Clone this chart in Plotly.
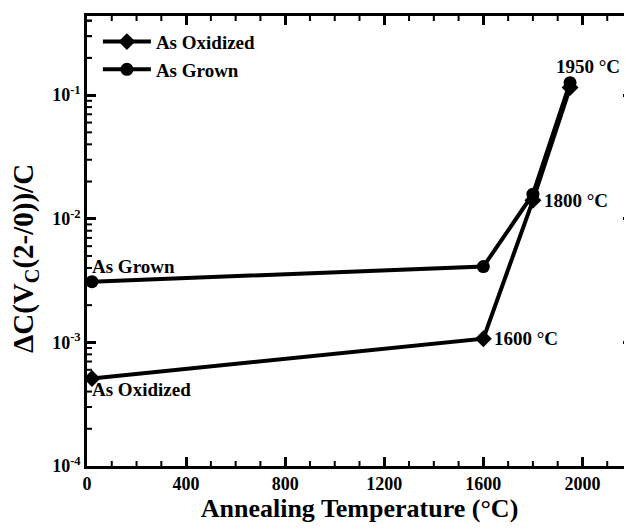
import math
import plotly.graph_objects as go

temps_grown = [20, 1600, 1800, 1950]
vals_grown = [3.1e-3, 4.1e-3, 1.58e-2, 0.126]
temps_ox = [20, 1600, 1800, 1950]
vals_ox = [5.1e-4, 1.07e-3, 1.41e-2, 0.115]

x_major = [0, 400, 800, 1200, 1600, 2000]
x_minor = [v for v in range(100, 2200, 100) if v % 400 != 0]
y_major = [1e-4, 1e-3, 1e-2, 1e-1]
y_major_text = ["10<sup>-4</sup>", "10<sup>-3</sup>", "10<sup>-2</sup>", "10<sup>-1</sup>"]
y_minor = [k * 10.0 ** n for n in range(-4, 0) for k in range(2, 10)] + [0.2, 0.3, 0.4]

FONT = "Liberation Serif"
XR = [0, 2200]
YR = [-4, -0.36]

fig = go.Figure()
fig.add_trace(go.Scatter(
    x=temps_ox, y=vals_ox, mode="lines+markers", name="As Oxidized",
    line=dict(color="black", width=4),
    marker=dict(symbol="diamond", size=13, color="black"),
))
fig.add_trace(go.Scatter(
    x=temps_grown, y=vals_grown, mode="lines+markers", name="As Grown",
    line=dict(color="black", width=4),
    marker=dict(symbol="circle", size=13, color="black"),
))

L = math.log10
ann = [
    dict(x=temps_grown[0], y=L(vals_grown[0]), text="As Grown", xanchor="left", yanchor="bottom", xshift=-2, yshift=3),
    dict(x=temps_ox[0], y=L(vals_ox[0]), text="As Oxidized", xanchor="left", yanchor="top", xshift=-2, yshift=2),
    dict(x=temps_ox[1], y=L(vals_ox[1]), text="1600 °C", xanchor="left", yanchor="middle", xshift=9),
    dict(x=temps_ox[2], y=L(vals_ox[2]), text="1800 °C", xanchor="left", yanchor="middle", xshift=9),
    dict(x=temps_grown[3], y=L(vals_grown[3]), text="1950 °C", xanchor="center", yanchor="bottom", yshift=4, xshift=18),
]
for a in ann:
    a.update(showarrow=False, font=dict(family=FONT, size=19, color="black", weight="bold"))
ann.append(dict(
    text="ΔC(V<sub>C</sub>(2-/0))/C", textangle=-90, showarrow=False,
    xref="paper", yref="paper", x=-0.114, y=0.462, xanchor="center", yanchor="middle",
    font=dict(family=FONT, size=29, color="black", weight="bold"),
))

# minor ticks (inside, on all four sides), placed through the axis scales
tick_style = dict(type="line", line=dict(color="black", width=2), layer="above")
shapes = []
for v in x_minor:
    shapes.append(dict(xref="x", yref="paper", x0=v, x1=v, ysizemode="pixel", yanchor=0, y0=0, y1=5, **tick_style))
    shapes.append(dict(xref="x", yref="paper", x0=v, x1=v, ysizemode="pixel", yanchor=1, y0=0, y1=-5, **tick_style))
for v in y_minor:
    shapes.append(dict(xref="paper", yref="y", y0=v, y1=v, xsizemode="pixel", xanchor=0, x0=0, x1=5, **tick_style))
    shapes.append(dict(xref="paper", yref="y", y0=v, y1=v, xsizemode="pixel", xanchor=1, x0=0, x1=-5, **tick_style))

common_line = dict(showline=True, linewidth=2.5, linecolor="black", mirror="ticks",
                   showgrid=False, zeroline=False, tickcolor="black", ticks="inside")

fig.update_layout(
    annotations=ann,
    shapes=shapes,
    width=624, height=522,
    margin=dict(l=79, r=0, t=8, b=64),
    plot_bgcolor="white", paper_bgcolor="white",
    font=dict(family=FONT, color="black"),
    legend=dict(x=0.02, y=0.985, xanchor="left", yanchor="top",
                font=dict(family=FONT, size=19, color="black", weight="bold"),
                bgcolor="rgba(0,0,0,0)", itemwidth=48, tracegroupgap=0),
    showlegend=True,
    xaxis=dict(range=XR, tickmode="array", tickvals=x_major,
               ticktext=[f"<b>{v}</b>" for v in x_major],
               ticklen=9, tickwidth=2.5, automargin=False,
               tickfont=dict(family=FONT, size=18, color="black"),
               title=dict(text="Annealing Temperature (°C)",
                          font=dict(family=FONT, size=26, color="black", weight="bold"), standoff=6),
               **common_line),
    yaxis=dict(type="log", range=YR, tickmode="array", tickvals=y_major,
               ticktext=[f"<b>{t}</b>" for t in y_major_text],
               ticklen=9, tickwidth=2.5, automargin=False,
               tickfont=dict(family=FONT, size=18, color="black"),
               **common_line),
)

fig.write_html("out.html")
